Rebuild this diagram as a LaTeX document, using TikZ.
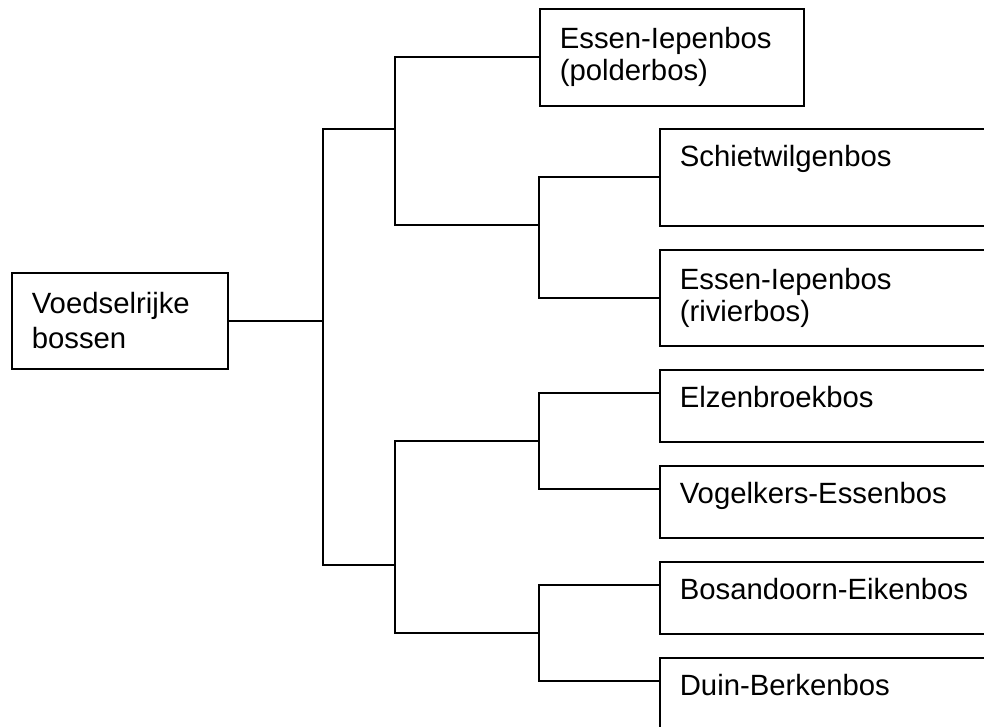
\documentclass[tikz,border=0pt]{standalone}
\usepackage{fontspec}
\setmainfont{Liberation Sans}

\begin{document}
\begin{tikzpicture}[x=1pt,y=-1pt,line width=1.6pt,
    box/.style={draw,anchor=north west,align=left,inner xsep=20pt,inner ysep=0pt,
      font=\fontsize{29.3}{32}\selectfont},
    leaf/.style={box,text width=320},
    short/.style={leaf,minimum height=72,text depth=17}]
  \useasboundingbox (0,0) rectangle (984,727);
  \clip (0,0) rectangle (984,727);
  % boxes
  \node[box,text width=176,minimum height=96,font=\fontsize{29.3}{35}\selectfont]
    (root) at (11,272) {Voedselrijke\\bossen};
  \node[box,text width=224,minimum height=97] (polder) at (539,8) {Essen-Iepenbos\\(polderbos)};
  \node[leaf,minimum height=97,text depth=42] (schiet) at (659,128) {Schietwilgenbos};
  \node[leaf,minimum height=96] (rivier) at (659,249) {Essen-Iepenbos\\(rivierbos)};
  \node[short] (elzen) at (659,369) {Elzenbroekbos};
  \node[short] (vogel) at (659,465) {Vogelkers-Essenbos};
  \node[short] (bosand) at (659,561) {Bosandoorn-Eikenbos};
  \node[short] (duin) at (659,657) {Duin-Berkenbos};
  % junctions
  \coordinate (j0) at (323,129);
  \coordinate (j1) at (323,565);
  \coordinate (k0) at (395,129);
  \coordinate (k1) at (395,225);
  \coordinate (k2) at (395,565);
  \coordinate (m0) at (539,225);
  \coordinate (m1) at (539,441);
  \coordinate (m2) at (539,633);
  % lines
  \draw (root.east) -- (root.east -| j0);
  \draw (k0) -- (j0) -- (j1) -- (k2);
  \draw (polder.west) -| (k1) -- (m0);
  \draw (schiet.west) -| (m0) |- (rivier.west);
  \draw (m1) -| (k2) |- (m2);
  \draw ([yshift=-24pt]elzen.north west) -| (m1) |- ([yshift=-24pt]vogel.north west);
  \draw ([yshift=-24pt]bosand.north west) -| (m2) |- ([yshift=-24pt]duin.north west);
\end{tikzpicture}
\end{document}
